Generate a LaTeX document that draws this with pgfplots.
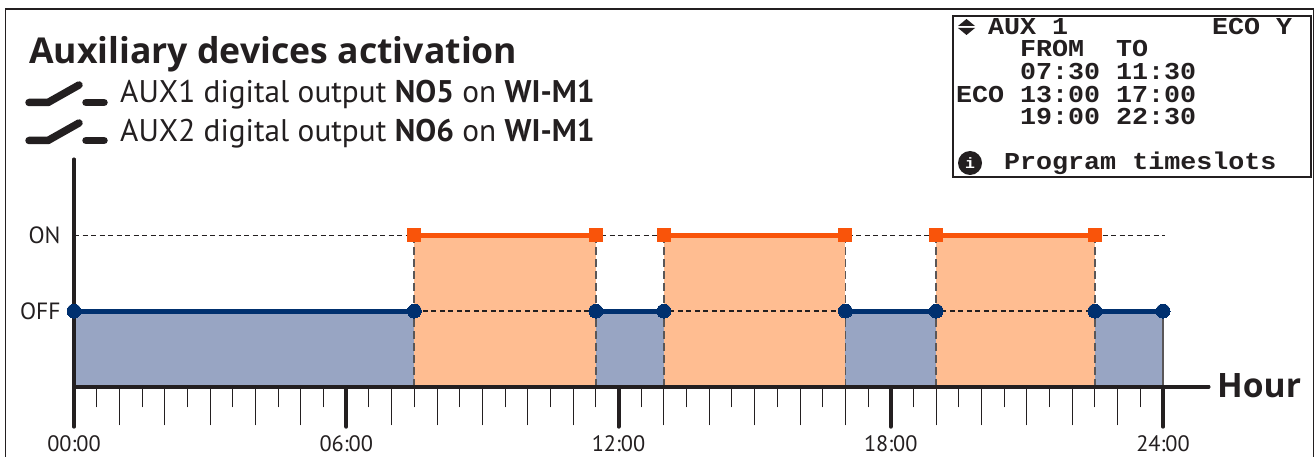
\documentclass[border=0pt]{standalone}
\usepackage{fontspec}
\setmainfont{PT Sans}
\newfontfamily\headfont{Open Sans}
\newfontfamily\lcd[FakeStretch=1.1]{Liberation Mono}
\usepackage{pgfplots}
\pgfplotsset{compat=1.18}
\definecolor{ink}{HTML}{231F20}
\definecolor{offline}{HTML}{00306F}
\definecolor{offfill}{HTML}{98A5C3}
\definecolor{online}{HTML}{F9540A}
\definecolor{onfill}{HTML}{FFBD91}
\newcommand{\lcdt}[3]{\node[anchor=base west,inner sep=0pt,text=ink] at (#1pt,-#2pt) {\lcd\bfseries\fontsize{24.25}{28}\selectfont #3};}
\begin{document}
\begin{tikzpicture}
\path[use as bounding box] (0pt,0pt) rectangle (1316pt,-457pt);
\draw[ink,line width=1.6pt] (5.5pt,-457pt) -- (5.5pt,-9pt) -- (1313.5pt,-9pt) -- (1313.5pt,-457pt);
\begin{axis}[
  at={(74pt,-386.7pt)},anchor=south west,
  scale only axis,width=1134.4pt,height=226.9pt,
  xmin=0,xmax=25,ymin=0,ymax=3,
  clip=false,
  axis lines=left,
  separate axis lines,
  x axis line style={-,line width=4pt,color=ink,line cap=round},
  y axis line style={-,line width=4.5pt,color=ink,line cap=round},
  xtick={0,6,12,18,24},
  xticklabels={00:00,06:00,12:00,18:00,24:00},
  minor xtick={0.5,1.5,...,23.5},
  extra x ticks={1,2,3,4,5,7,8,9,10,11,13,14,15,16,17,19,20,21,22,23},
  extra x tick labels={},
  extra x tick style={major tick length=38pt,xtick style={line width=1pt,color=ink}},
  xtick align=outside,
  major tick length=40pt,
  minor tick length=20pt,
  xtick style={line width=4pt,color=ink,line cap=round},
  minor x tick style={line width=1pt,color=ink},
  ytick={1,2},yticklabels={OFF,ON},
  ytick style={draw=none},
  ytick align=outside,
  x tick label style={font=\fontsize{22.3}{24}\selectfont,text=ink,yshift=-5pt},
  y tick label style={font=\fontsize{23.5}{25}\selectfont,text=ink,xshift=30pt},
]
% filled areas
\addplot[fill=offfill,draw=none] coordinates {(0,0)(0,1)(7.5,1)(7.5,0)} --cycle;
\addplot[fill=offfill,draw=none] coordinates {(11.5,0)(11.5,1)(13,1)(13,0)} --cycle;
\addplot[fill=offfill,draw=none] coordinates {(17,0)(17,1)(19,1)(19,0)} --cycle;
\addplot[fill=offfill,draw=none] coordinates {(22.5,0)(22.5,1)(24,1)(24,0)} --cycle;
\addplot[fill=onfill,draw=none] coordinates {(7.5,0)(7.5,2)(11.5,2)(11.5,0)} --cycle;
\addplot[fill=onfill,draw=none] coordinates {(13,0)(13,2)(17,2)(17,0)} --cycle;
\addplot[fill=onfill,draw=none] coordinates {(19,0)(19,2)(22.5,2)(22.5,0)} --cycle;
% dashed guides
\addplot[ink,line width=1.2pt,dash pattern=on 5pt off 3.5pt] coordinates {(0,2)(24.05,2)};
\addplot[ink,line width=1.2pt,dash pattern=on 5pt off 3.5pt] coordinates {(7.5,1)(22.5,1)};
\addplot[ink!75,line width=1.7pt,dash pattern=on 8pt off 4pt] coordinates {(7.5,0)(7.5,2)};
\addplot[ink!75,line width=1.7pt,dash pattern=on 8pt off 4pt] coordinates {(11.5,0)(11.5,2)};
\addplot[ink!75,line width=1.7pt,dash pattern=on 8pt off 4pt] coordinates {(13,0)(13,2)};
\addplot[ink!75,line width=1.7pt,dash pattern=on 8pt off 4pt] coordinates {(17,0)(17,2)};
\addplot[ink!75,line width=1.7pt,dash pattern=on 8pt off 4pt] coordinates {(19,0)(19,2)};
\addplot[ink!75,line width=1.7pt,dash pattern=on 8pt off 4pt] coordinates {(22.5,0)(22.5,2)};
\addplot[ink!75,line width=1.4pt] coordinates {(24,0)(24,1)};
% axis lines restated above the fills
\addplot[ink,line width=4pt,line cap=round] coordinates {(0,0)(25,0)};
\addplot[ink,line width=4.5pt,line cap=round] coordinates {(0,0)(0,3)};
% OFF segments
\addplot[offline,line width=5pt,mark=*,mark size=7pt,mark options={solid,fill=offline,draw=offline,line width=0pt}] coordinates {(0,1)(7.5,1)};
\addplot[offline,line width=5pt,mark=*,mark size=7pt,mark options={solid,fill=offline,draw=offline,line width=0pt}] coordinates {(11.5,1)(13,1)};
\addplot[offline,line width=5pt,mark=*,mark size=7pt,mark options={solid,fill=offline,draw=offline,line width=0pt}] coordinates {(17,1)(19,1)};
\addplot[offline,line width=5pt,mark=*,mark size=7pt,mark options={solid,fill=offline,draw=offline,line width=0pt}] coordinates {(22.5,1)(24,1)};
% ON segments
\addplot[online,line width=5pt,mark=square*,mark size=6.5pt,mark options={solid,fill=online,draw=online,line width=0pt}] coordinates {(7.5,2)(11.5,2)};
\addplot[online,line width=5pt,mark=square*,mark size=6.5pt,mark options={solid,fill=online,draw=online,line width=0pt}] coordinates {(13,2)(17,2)};
\addplot[online,line width=5pt,mark=square*,mark size=6.5pt,mark options={solid,fill=online,draw=online,line width=0pt}] coordinates {(19,2)(22.5,2)};
\end{axis}
% headings
\node[anchor=base west,inner sep=0pt,text=ink] at (29pt,-64pt) {\headfont\fontsize{35.6}{40}\selectfont\bfseries Auxiliary devices activation};
\node[anchor=base west,inner sep=0pt,text=ink] at (120pt,-103pt) {\fontsize{31.3}{34}\selectfont AUX1 digital output \textbf{NO5} on \textbf{WI-M1}};
\node[anchor=base west,inner sep=0pt,text=ink] at (120pt,-142pt) {\fontsize{31.3}{34}\selectfont AUX2 digital output \textbf{NO6} on \textbf{WI-M1}};
\node[anchor=base west,inner sep=0pt,text=ink] at (1217pt,-397pt) {\headfont\fontsize{33.6}{38}\selectfont\bfseries Hour};
% switch symbols
\draw[ink,line width=7.5pt,line cap=round,line join=round] (29pt,-102.5pt) -- (48pt,-102.5pt) -- (79pt,-85pt);
\draw[ink,line width=7.5pt,line cap=round] (86pt,-102.5pt) -- (104pt,-102.5pt);
\draw[ink,line width=7.5pt,line cap=round,line join=round] (29pt,-140.5pt) -- (48pt,-140.5pt) -- (79pt,-123pt);
\draw[ink,line width=7.5pt,line cap=round] (86pt,-140.5pt) -- (104pt,-140.5pt);
% display
\draw[ink,line width=1.5pt,fill=white] (953pt,-16pt) rectangle (1311pt,-177pt);
\fill[ink] (958pt,-26pt) -- (966.5pt,-19pt) -- (975pt,-26pt) -- cycle;
\fill[ink] (958pt,-28pt) -- (975pt,-28pt) -- (966.5pt,-35pt) -- cycle;
\lcdt{988}{35}{AUX 1}
\lcdt{1212}{35}{ECO Y}
\lcdt{1020}{57}{FROM}
\lcdt{1116}{57}{TO}
\lcdt{1020}{80}{07:30}
\lcdt{1116}{80}{11:30}
\lcdt{956}{103}{ECO}
\lcdt{1020}{103}{13:00}
\lcdt{1116}{103}{17:00}
\lcdt{1020}{125}{19:00}
\lcdt{1116}{125}{22:30}
\lcdt{1004}{170}{Program timeslots}
\fill[ink] (970pt,-163pt) circle (12pt);
\node[text=white,inner sep=0pt] at (970pt,-163pt) {\lcd\bfseries\fontsize{15}{15}\selectfont i};
\end{tikzpicture}
\end{document}
